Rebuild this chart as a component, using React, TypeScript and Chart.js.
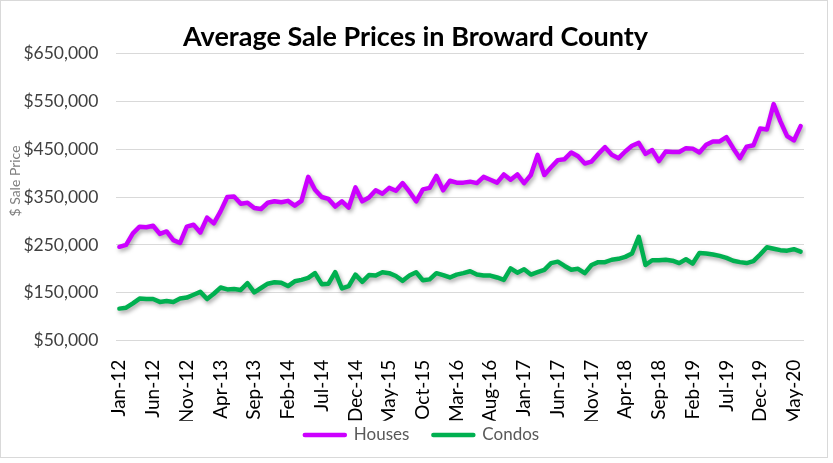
import { useEffect, useRef } from 'react';
import { Chart, registerables } from 'chart.js';

Chart.register(...registerables);

// Monthly categories, Jan-12 through Jun-20
const MONTHS = ['Jan', 'Feb', 'Mar', 'Apr', 'May', 'Jun', 'Jul', 'Aug', 'Sep', 'Oct', 'Nov', 'Dec'];
const FIRST_YEAR = 2012;
const MONTH_COUNT = 102;
const categories: string[] = Array.from({ length: MONTH_COUNT }, (_, i) =>
  `${MONTHS[i % 12]}-${String((FIRST_YEAR + Math.floor(i / 12)) % 100).padStart(2, '0')}`
);

// Average sale price, in thousands of dollars
const housesK = [
  246, 250, 274, 288, 287, 290, 273, 278, 260, 254,
  288, 292, 276, 307, 295, 320, 350, 351, 336, 338,
  327, 325, 338, 341, 339, 342, 332, 342, 392, 365,
  350, 346, 330, 341, 328, 370, 341, 349, 364, 357,
  369, 363, 379, 361, 341, 366, 369, 394, 364, 384,
  380, 380, 382, 379, 392, 386, 380, 397, 386, 397,
  379, 396, 438, 396, 412, 427, 429, 443, 435, 420,
  424, 440, 454, 438, 431, 445, 457, 463, 440, 448,
  425, 445, 444, 444, 452, 451, 443, 459, 466, 466,
  475, 452, 431, 455, 458, 493, 491, 544, 508, 477,
  468, 498,
];

const condosK = [
  117, 119, 128, 138, 137, 137, 131, 133, 131, 138,
  140, 146, 152, 137, 148, 161, 157, 158, 156, 170,
  151, 160, 169, 172, 171, 164, 174, 177, 181, 191,
  168, 169, 193, 159, 164, 188, 173, 187, 186, 193,
  191, 185, 175, 186, 193, 176, 178, 191, 187, 182,
  188, 191, 195, 188, 186, 186, 182, 177, 201, 192,
  199, 188, 193, 198, 212, 215, 206, 198, 200, 191,
  208, 214, 214, 219, 221, 225, 232, 267, 208, 218,
  218, 219, 217, 212, 220, 211, 233, 232, 230, 227,
  223, 217, 214, 212, 216, 230, 245, 242, 239, 238,
  241, 236,
];

const houses = housesK.map((v) => v * 1000);
const condos = condosK.map((v) => v * 1000);

const Y_MIN = 50000;
const Y_MAX = 650000;
const Y_STEP = 100000;
const LABEL_EVERY = 5;
const TITLE = 'Average Sale Prices in Broward County';
const Y_TITLE = '$ Sale Price';

const FONT = 'Lato, "Open Sans", sans-serif';
const W = 833;
const H = 463;

// White background and thin grey frame round the chart
const framePlugin = {
  id: 'frame',
  beforeDraw(chart: any) {
    const ctx = chart.ctx;
    ctx.save();
    ctx.fillStyle = '#ffffff';
    ctx.fillRect(0, 0, W, H);
    ctx.strokeStyle = '#d9d9d9';
    ctx.lineWidth = 1;
    ctx.strokeRect(0.5, 0.5, 827, 457);
    ctx.restore();
  },
};

// Soft drop shadow under each series line
const shadowPlugin = {
  id: 'lineShadow',
  beforeDatasetDraw(chart: any) {
    const ctx = chart.ctx;
    ctx.save();
    ctx.shadowColor = 'rgba(0,0,0,0.35)';
    ctx.shadowBlur = 4;
    ctx.shadowOffsetX = 1.5;
    ctx.shadowOffsetY = 2.5;
  },
  afterDatasetDraw(chart: any) {
    chart.ctx.restore();
  },
};

// Chart heading, centred on the framed box
const headingPlugin = {
  id: 'heading',
  afterDraw(chart: any) {
    const ctx = chart.ctx;
    ctx.save();
    ctx.fillStyle = '#000000';
    ctx.font = `bold 27px ${FONT}`;
    ctx.textAlign = 'center';
    ctx.textBaseline = 'middle';
    ctx.fillText(TITLE, 415.5, 37);
    ctx.restore();
  },
};

// Vertical axis caption, a little above the middle of the value axis
const yCaptionPlugin = {
  id: 'yCaption',
  afterDraw(chart: any) {
    const ctx = chart.ctx;
    const area = chart.chartArea;
    ctx.save();
    ctx.translate(15, (area.top + area.bottom) / 2 - 16);
    ctx.rotate(-Math.PI / 2);
    ctx.fillStyle = '#7f7f7f';
    ctx.font = `14px ${FONT}`;
    ctx.textAlign = 'center';
    ctx.textBaseline = 'middle';
    ctx.fillText(Y_TITLE, 0, 0);
    ctx.restore();
  },
};

// Line-sample legend under the axis labels
const legendPlugin = {
  id: 'lineLegend',
  afterDraw(chart: any) {
    const ctx = chart.ctx;
    const sample = 44;
    const gap = 7;
    const spacing = 22;
    const cy = 435;
    const cx = 421;
    ctx.save();
    ctx.font = `17px ${FONT}`;
    const items = chart.data.datasets.map((ds: any) => ({
      text: ds.label as string,
      color: ds.borderColor as string,
      width: ds.borderWidth as number,
      tw: ctx.measureText(ds.label).width,
    }));
    const total =
      items.reduce((s: number, it: any) => s + sample + gap + it.tw, 0) + spacing * (items.length - 1);
    let x = cx - total / 2;
    for (const it of items) {
      ctx.strokeStyle = it.color;
      ctx.lineWidth = it.width;
      ctx.lineCap = 'round';
      ctx.beginPath();
      ctx.moveTo(x + 2, cy);
      ctx.lineTo(x + sample - 2, cy);
      ctx.stroke();
      ctx.fillStyle = '#595959';
      ctx.textAlign = 'left';
      ctx.textBaseline = 'middle';
      ctx.fillText(it.text, x + sample + gap, cy);
      x += sample + gap + it.tw + spacing;
    }
    ctx.restore();
  },
};

export default function App() {
  const canvasRef = useRef<HTMLCanvasElement>(null);

  useEffect(() => {
    const canvas = canvasRef.current;
    if (!canvas) return;
    const chart = new Chart(canvas, {
      type: 'line',
      data: {
        labels: categories,
        datasets: [
          {
            label: 'Houses',
            data: houses,
            borderColor: '#cc00ff',
            backgroundColor: '#cc00ff',
            borderWidth: 4.5,
            borderCapStyle: 'round',
            borderJoinStyle: 'round',
            pointRadius: 0,
            pointHoverRadius: 0,
            tension: 0,
            fill: false,
          },
          {
            label: 'Condos',
            data: condos,
            borderColor: '#00b050',
            backgroundColor: '#00b050',
            borderWidth: 4.5,
            borderCapStyle: 'round',
            borderJoinStyle: 'round',
            pointRadius: 0,
            pointHoverRadius: 0,
            tension: 0,
            fill: false,
          },
        ],
      },
      options: {
        responsive: false,
        devicePixelRatio: 1,
        animation: false,
        events: [],
        layout: { padding: { left: 0, right: 29, top: 53.3, bottom: 42.3 } },
        plugins: {
          title: { display: false },
          legend: { display: false },
          tooltip: { enabled: false },
        },
        scales: {
          x: {
            type: 'category',
            offset: true,
            grid: { display: false },
            border: { display: false },
            ticks: {
              autoSkip: false,
              minRotation: 90,
              maxRotation: 90,
              padding: 11,
              color: '#000000',
              font: { family: FONT, size: 19 },
              callback: (_v: any, index: number) =>
                index % LABEL_EVERY === 0 ? categories[index] : null,
            },
            afterFit: (scale: any) => {
              scale.height = 80;
            },
          },
          y: {
            min: Y_MIN,
            max: Y_MAX,
            ticks: {
              stepSize: Y_STEP,
              padding: 17.6,
              color: '#404040',
              font: { family: FONT, size: 17.5 },
              callback: (v: any) => '$' + Number(v).toLocaleString('en-US'),
            },
            grid: { color: '#d9d9d9', lineWidth: 1, drawTicks: false },
            border: { display: false },
            afterFit: (scale: any) => {
              scale.width = 116;
            },
          },
        },
      },
      plugins: [framePlugin, shadowPlugin, headingPlugin, yCaptionPlugin, legendPlugin],
    });
    return () => chart.destroy();
  }, []);

  return (
    <div style={{ position: 'absolute', left: 0, top: 0, width: W, height: H, background: '#fff' }}>
      <canvas ref={canvasRef} width={W} height={H} style={{ display: 'block', width: W, height: H }} />
    </div>
  );
}
